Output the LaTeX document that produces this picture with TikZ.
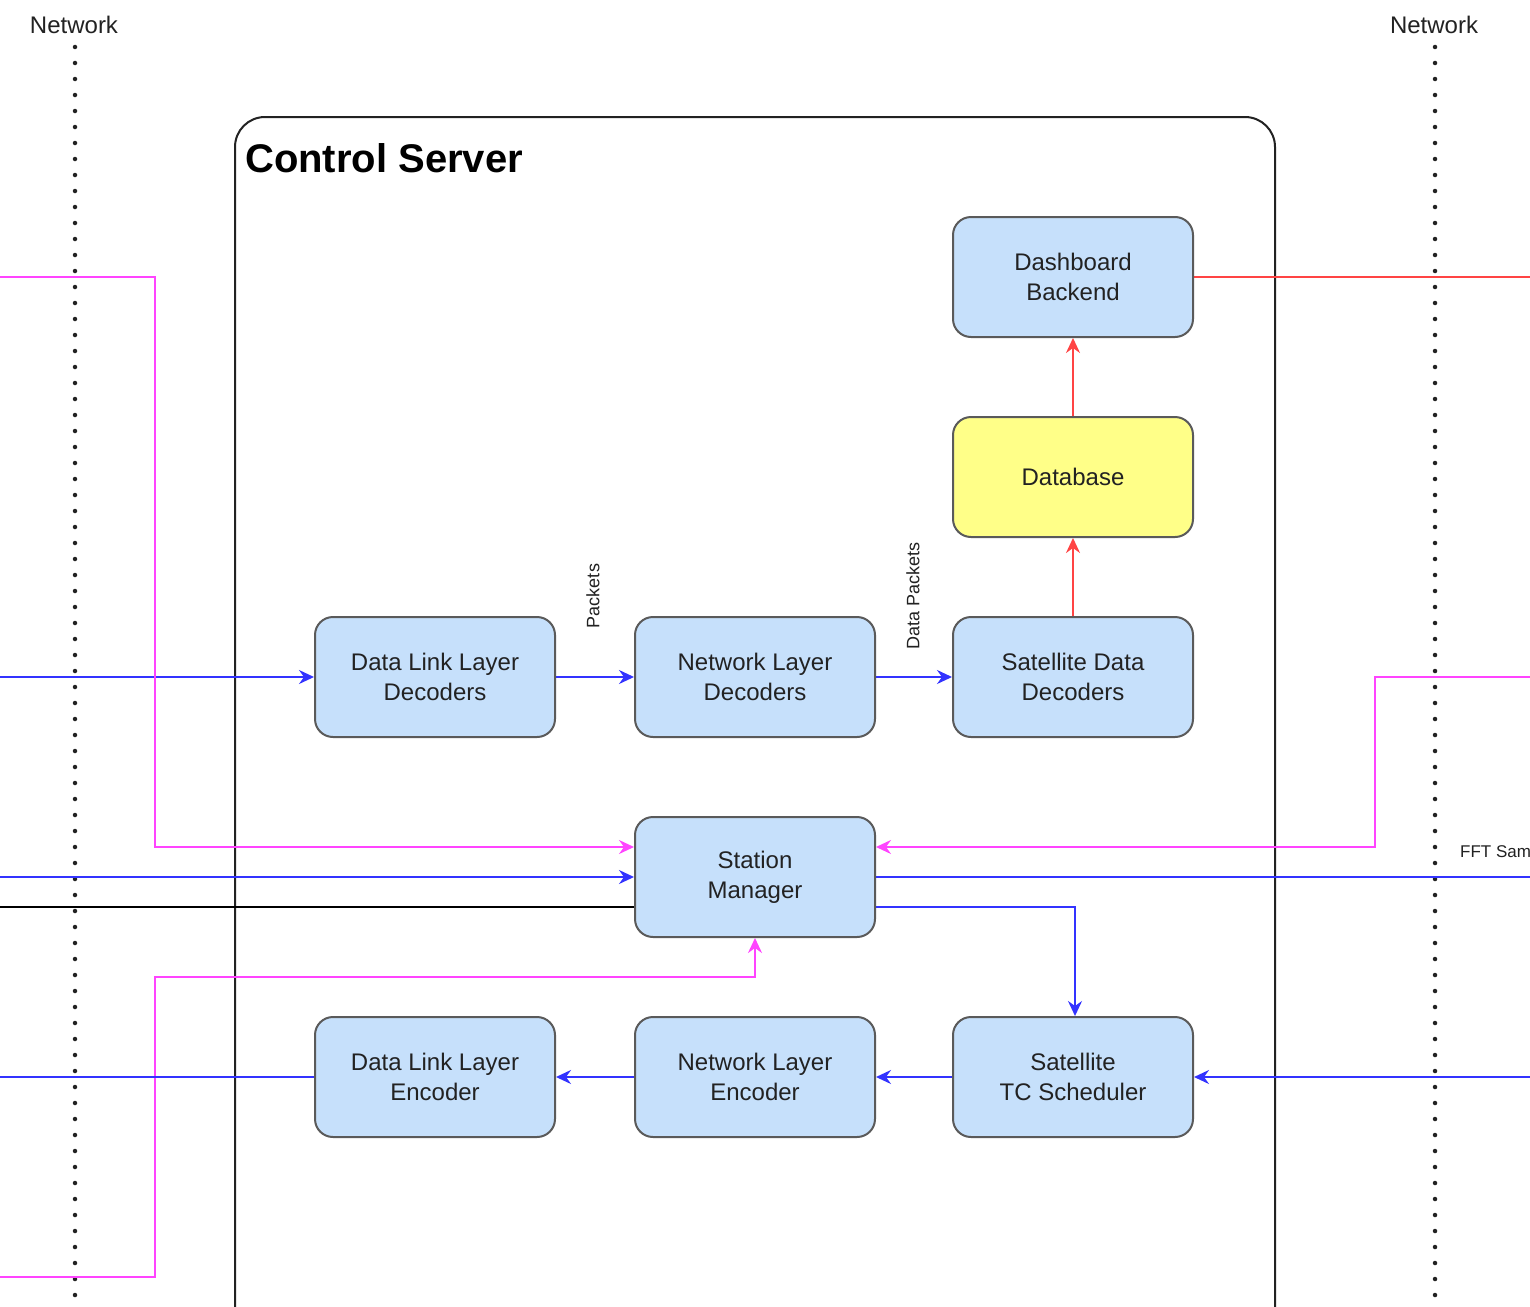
\documentclass[tikz,border=0pt]{standalone}
\usepackage{fontspec}
\setmainfont{Liberation Sans}
\usetikzlibrary{arrows.meta,calc}
\pgfdeclarelayer{bg}
\pgfsetlayers{bg,main}
\definecolor{boxfill}{HTML}{C6E0FB}
\definecolor{boxline}{HTML}{5A5A5A}
\definecolor{dbfill}{HTML}{FFFF88}
\definecolor{cblue}{HTML}{3333FF}
\definecolor{cred}{HTML}{FF4444}
\definecolor{cmag}{HTML}{FF44FF}
\definecolor{ctext}{HTML}{222222}
\tikzset{
  blk/.style={draw=boxline, fill=boxfill, line width=2pt, rounded corners=18pt,
    minimum width=240pt, minimum height=120pt, inner sep=0pt, align=center,
    text=ctext, font=\fontsize{24}{30}\selectfont},
  dbblk/.style={blk, fill=dbfill},
  arr/.style={-{Stealth[length=15pt,width=14pt,inset=5pt]}},
  bluel/.style={draw=cblue, line width=2pt},
  redl/.style={draw=cred, line width=2pt},
  magl/.style={draw=cmag, line width=2pt},
  blkl/.style={draw=black, line width=2pt},
  netline/.style={draw=ctext, line width=4.5pt, line cap=round, dash pattern=on 0pt off 16pt},
  lbl/.style={text=ctext, inner sep=0pt},
}
\begin{document}
\begin{tikzpicture}[x=1pt,y=-1pt]
\useasboundingbox (0,0) rectangle (1530,1306);
\clip (0,0) rectangle (1530,1306);

% Nodes
\node[blk] (dash) at (1073,277) {Dashboard\\Backend};
\node[dbblk] (db) at (1073,477) {Database};
\node[blk] (sdd) at (1073,677) {Satellite Data\\Decoders};
\node[blk] (nld) at (755,677) {Network Layer\\Decoders};
\node[blk] (dlld) at (435,677) {Data Link Layer\\Decoders};
\node[blk] (sm) at (755,877) {Station\\Manager};
\node[blk] (dlle) at (435,1077) {Data Link Layer\\Encoder};
\node[blk] (nle) at (755,1077) {Network Layer\\Encoder};
\node[blk] (tcs) at (1073,1077) {Satellite\\TC Scheduler};

% Labels
\node[lbl, anchor=west, font=\fontsize{40}{44}\selectfont\bfseries, text=black] (title) at (245,158) {Control Server};
\node[lbl, font=\fontsize{24}{28}\selectfont] (netL) at (74,25) {Network};
\node[lbl, font=\fontsize{24}{28}\selectfont] (netR) at (1434,25) {Network};
\node[lbl, rotate=90, font=\fontsize{18}{20}\selectfont] (pk) at (593,596) {Packets};
\node[lbl, rotate=90, font=\fontsize{18}{20}\selectfont] (dpk) at (913,596) {Data Packets};
\node[lbl, anchor=west, font=\fontsize{17}{20}\selectfont] (fft) at (1460,852) {FFT Sam};

% free ends
\coordinate (nl1) at (75,47);
\coordinate (nl2) at (75,1310);
\coordinate (nr1) at (1435,47);
\coordinate (nr2) at (1435,1310);
\coordinate (L277) at (0,277);
\coordinate (L677) at (0,677);
\coordinate (L877) at (0,877);
\coordinate (L907) at (0,907);
\coordinate (L1077) at (0,1077);
\coordinate (L1277) at (0,1277);
\coordinate (R277) at (1530,277);
\coordinate (R677) at (1530,677);
\coordinate (R877) at (1530,877);
\coordinate (R1077) at (1530,1077);

\begin{pgfonlayer}{bg}
\fill[white] (0,0) rectangle (1530,1306);
% Control server container
\draw[line width=2pt, draw=ctext, rounded corners=30pt] (235,1360) -- (235,117) -- (1275,117) -- (1275,1360);
% Network lines
\draw[netline] (nl1) -- (nl2);
\draw[netline] (nr1) -- (nr2);
% Connectors
\draw[bluel, arr] (L677) -- (dlld.west);
\draw[bluel, arr] (dlld.east) -- (nld.west);
\draw[bluel, arr] (nld.east) -- (sdd.west);
\draw[redl, arr] (sdd.north) -- (db.south);
\draw[redl, arr] (db.north) -- (dash.south);
\draw[redl] (dash.east) -- (R277);
\draw[magl, arr] (L277) -- (155,277) -- (155,847) -- ([yshift=30pt]sm.west);
\draw[bluel, arr] (L877) -- (sm.west);
\draw[blkl] (L907) -- ([yshift=-30pt]sm.west);
\draw[magl, arr] (R677) -- (1375,677) -- (1375,847) -- ([yshift=30pt]sm.east);
\draw[bluel] (sm.east) -- (R877);
\draw[bluel, arr] ([yshift=-30pt]sm.east) -- (1075,907) -- ([xshift=2pt]tcs.north);
\draw[magl, arr] (L1277) -- (155,1277) -- (155,977) -- (755,977) -- (sm.south);
\draw[bluel, arr] (R1077) -- (tcs.east);
\draw[bluel, arr] (tcs.west) -- (nle.east);
\draw[bluel, arr] (nle.west) -- (dlle.east);
\draw[bluel] (dlle.west) -- (L1077);
\end{pgfonlayer}
\end{tikzpicture}
\end{document}
